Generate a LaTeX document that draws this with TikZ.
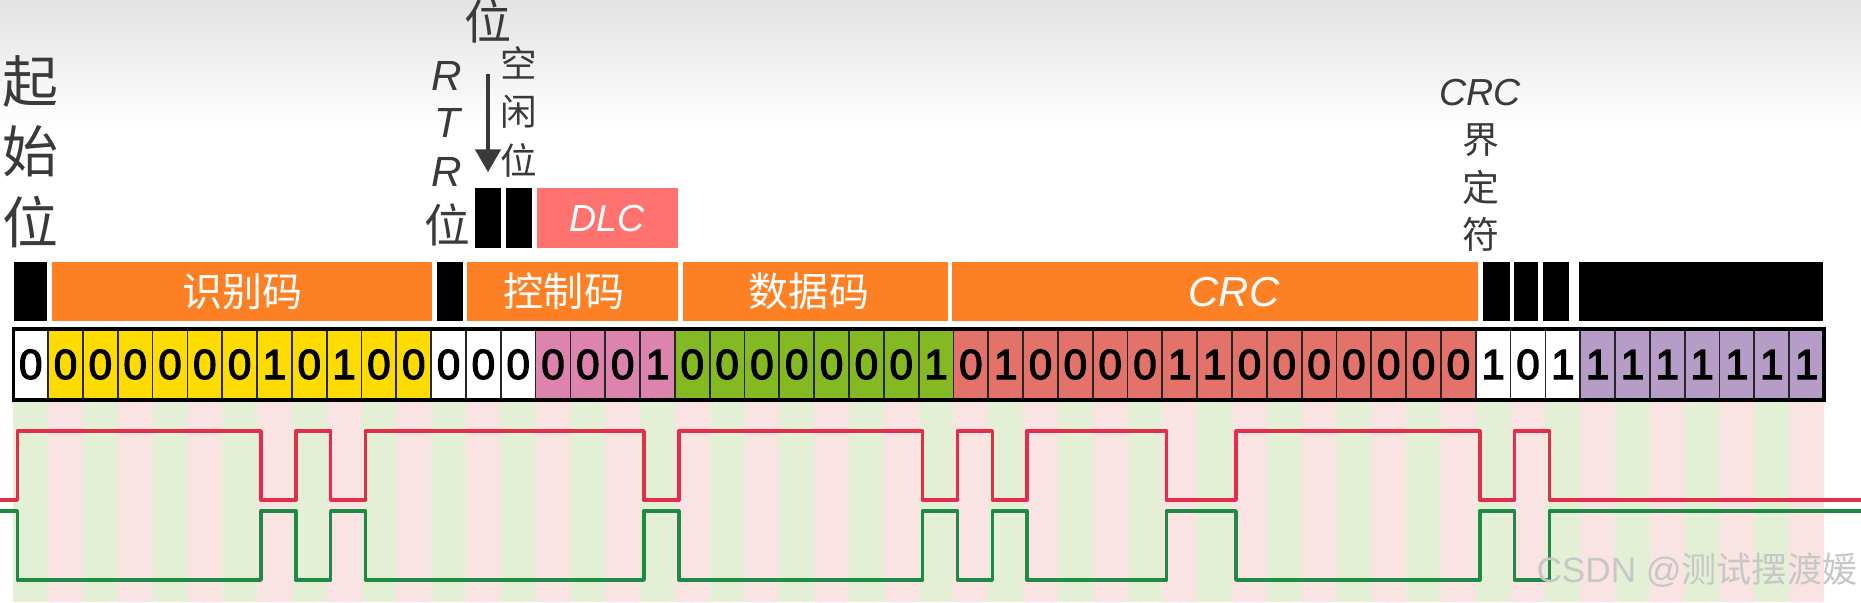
\documentclass[tikz,border=0pt]{standalone}
\usepackage{fontspec}
\setmainfont{Liberation Sans}
\newfontfamily\cjk{Noto Sans CJK SC}
\newfontfamily\bitfont[FakeBold=3]{Liberation Sans}
\usetikzlibrary{arrows.meta}

\definecolor{barorange}{RGB}{253,128,36}
\definecolor{idyellow}{RGB}{255,220,0}
\definecolor{dlcpink}{RGB}{220,131,174}
\definecolor{datagreen}{RGB}{132,185,36}
\definecolor{crcred}{RGB}{226,114,106}
\definecolor{eofpurple}{RGB}{181,157,199}
\definecolor{dlcbox}{RGB}{255,114,112}
\definecolor{stripegreen}{RGB}{227,240,214}
\definecolor{stripepink}{RGB}{250,227,227}
\definecolor{canhred}{RGB}{226,46,72}
\definecolor{canlgreen}{RGB}{30,138,70}
\definecolor{labelgray}{RGB}{58,58,58}

\begin{document}
\begin{tikzpicture}[x=0.01cm,y=-0.01cm,
  bitcell/.style={draw=black!85,line width=0.5pt,minimum width=0.3482cm,minimum height=0.71cm,inner sep=0pt,outer sep=0pt,font=\bitfont\fontsize{12}{14}\selectfont},
  fieldbar/.style={fill=barorange,inner sep=0pt,minimum height=0.59cm},
  blackbar/.style={fill=black,inner sep=0pt,minimum height=0.59cm},
  bartext/.style={text=white,inner sep=0pt,font=\cjk\fontsize{11.4}{13}\selectfont},
  vlabel/.style={text=labelgray,inner sep=0pt},
  canh/.style={canhred,line width=1pt,line join=round},
  canl/.style={canlgreen,line width=1pt,line join=round}]
\useasboundingbox (0,0) rectangle (1861,602);
\fill[white] (0,0) rectangle (1861,602);
\shade[top color=black!11,bottom color=white] (0,0) rectangle (1861,130);

% bit time stripes
\foreach \i in {0,2,...,50} \fill[stripegreen] (13.3+34.82*\i,400) rectangle +(34.82,202);
\foreach \i in {1,3,...,51} \fill[stripepink] (13.3+34.82*\i,400) rectangle +(34.82,202);

% CAN_H and CAN_L
\draw[canh] (0,500) \foreach \t/\y in {0/431,7/500,8/431,9/500,10/431,18/500,19/431,26/500,27/431,28/500,29/431,33/500,35/431,42/500,43/431,44/500} { -| (17.3+34.82*\t,\y) } -- (1861,500);
\draw[canl] (0,511) \foreach \t/\y in {0/580,7/511,8/580,9/511,10/580,18/511,19/580,26/511,27/580,28/511,29/580,33/511,35/580,42/511,43/580,44/511} { -| (17.3+34.82*\t,\y) } -- (1861,511);

% bits
\node[bitcell,fill=white] (b0) at (30.71,364.5) {0};
\foreach \v [count=\i from 1] in {0,0,0,0,0,0,1,0,1,0,0}
  \node[bitcell,fill=idyellow] (b\i) at (30.71+34.82*\i,364.5) {\v};
\foreach \v [count=\i from 12] in {0,0,0}
  \node[bitcell,fill=white] (b\i) at (30.71+34.82*\i,364.5) {\v};
\foreach \v [count=\i from 15] in {0,0,0,1}
  \node[bitcell,fill=dlcpink] (b\i) at (30.71+34.82*\i,364.5) {\v};
\foreach \v [count=\i from 19] in {0,0,0,0,0,0,0,1}
  \node[bitcell,fill=datagreen] (b\i) at (30.71+34.82*\i,364.5) {\v};
\foreach \v [count=\i from 27] in {0,1,0,0,0,0,1,1,0,0,0,0,0,0,0}
  \node[bitcell,fill=crcred] (b\i) at (30.71+34.82*\i,364.5) {\v};
\foreach \v [count=\i from 42] in {1,0,1}
  \node[bitcell,fill=white] (b\i) at (30.71+34.82*\i,364.5) {\v};
\foreach \v [count=\i from 45] in {1,1,1,1,1,1,1}
  \node[bitcell,fill=eofpurple] (b\i) at (30.71+34.82*\i,364.5) {\v};
\draw[line width=1pt] (b0.north west) rectangle (b51.south east);

% fields
\node[blackbar,minimum width=0.327cm] (sofbar) at (30.35,291.2) {};
\node[fieldbar,minimum width=3.797cm] (idbar) at (242.15,291.2) {};
\node[blackbar,minimum width=0.257cm] (rtrbar) at (449.85,291.2) {};
\node[fieldbar,minimum width=2.11cm] (ctrlbar) at (572.2,291.2) {};
\node[fieldbar,minimum width=2.644cm] (databar) at (815.5,291.2) {};
\node[fieldbar,minimum width=5.26cm] (crcbar) at (1215.3,291.2) {};
\node[blackbar,minimum width=0.267cm] (crcdbar) at (1496.65,291.2) {};
\node[blackbar,minimum width=0.237cm] (ackbar) at (1525.85,291.2) {};
\node[blackbar,minimum width=0.263cm] (ackdbar) at (1555.85,291.2) {};
\node[blackbar,minimum width=2.437cm] (eofbar) at (1700.85,291.2) {};
\node[bartext] (idt) at (242.5,291.5) {识别码};
\node[bartext] (ctrlt) at (564,291.5) {控制码};
\node[bartext] (datat) at (809,291.5) {数据码};
\node[bartext,font=\itshape\fontsize{11.9}{14}\selectfont] (crct) at (1234,291.7) {CRC};

\node[blackbar,minimum width=0.26cm,minimum height=0.597cm] (r1bar) at (488,217.85) {};
\node[blackbar,minimum width=0.257cm,minimum height=0.597cm] (r0bar) at (518.85,217.85) {};
\node[fill=dlcbox,inner sep=0pt,minimum width=1.41cm,minimum height=0.597cm] (dlcbar) at (607.2,217.85) {};
\node[bartext,font=\itshape\fontsize{10.7}{13}\selectfont] (dlct) at (606.7,218.3) {DLC};

% labels
\foreach \c [count=\k] in {起,始,位}
  \node[vlabel,font=\cjk\fontsize{15.9}{18}\selectfont] (sof\k) at (30,10.5+70.5*\k) {\c};
\foreach \c/\y [count=\k] in {R/76,T/123,R/172}
  \node[vlabel,font=\itshape\fontsize{12}{14}\selectfont] (rtr\k) at (447,\y) {\c};
\node[vlabel,font=\cjk\fontsize{13}{15}\selectfont] (rtr4) at (447.5,225) {位};
\node[vlabel,font=\cjk\fontsize{13.4}{15}\selectfont] (res) at (488,21) {位};
\foreach \c/\y [count=\k] in {空/63,闲/112,位/160}
  \node[vlabel,font=\cjk\fontsize{10.4}{12}\selectfont] (idle\k) at (519,\y) {\c};
\node[vlabel,font=\itshape\fontsize{10.7}{13}\selectfont] (crcd0) at (1480,93) {CRC};
\foreach \c/\y [count=\k] in {界/140,定/187,符/234}
  \node[vlabel,font=\cjk\fontsize{10.5}{12}\selectfont] (crcd\k) at (1481,\y) {\c};

\draw[-{Triangle[width=0.25cm,length=0.23cm]},line width=1.4pt,labelgray,shorten <=0.3cm,shorten >=0.15cm] (res.south) -- (r1bar.north);

\node[text=black!22,inner sep=0pt,font=\fontsize{10}{12}\selectfont] (mark) at (1697,570) {CSDN @{\cjk 测试摆渡媛}};
\end{tikzpicture}
\end{document}
